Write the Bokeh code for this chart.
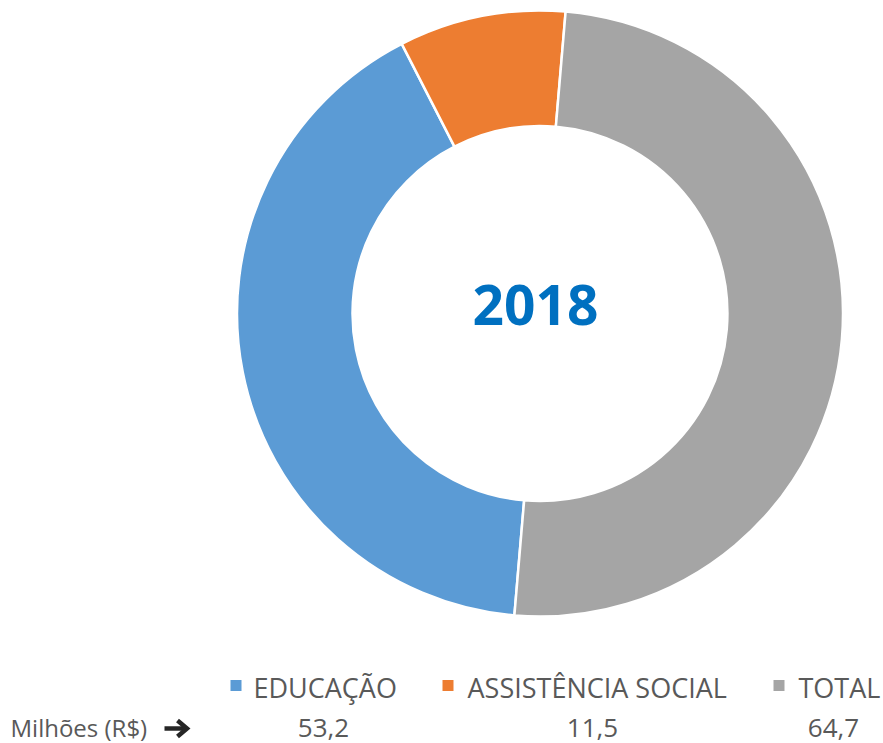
import numpy as np
from bokeh.plotting import figure
from bokeh.models import ColumnDataSource
from bokeh.core.properties import value
from bokeh.embed import file_html
from bokeh.resources import INLINE

categories = ["EDUCAÇÃO", "ASSISTÊNCIA SOCIAL", "TOTAL"]
values = [53.2, 11.5, 64.7]
colors = ["#5B9BD5", "#ED7D31", "#A5A5A5"]
center_label = "2018"
unit_label = "Milhões (R$)"

W, H = 883, 743
p = figure(width=W, height=H, x_range=(0, W), y_range=(0, H),
           output_backend="svg", toolbar_location=None, min_border=0)
p.axis.visible = False
p.grid.visible = False
p.outline_line_color = None
p.background_fill_color = "white"

# angles: clockwise from top, first slice angle
first_angle = 184.85
vals = np.array(values)
frac = vals / vals.sum()
cum = np.concatenate([[0], np.cumsum(frac)]) * 360.0
th_start = first_angle + cum[:-1]
th_end = first_angle + cum[1:]
start_angle = np.deg2rad(90 - th_end)
end_angle = np.deg2rad(90 - th_start)

src = ColumnDataSource(dict(start=start_angle, end=end_angle, color=colors, cat=categories))
cx, cy = 539.5, 430
p.annular_wedge(x=cx, y=cy, inner_radius=187.5, outer_radius=303,
                start_angle="start", end_angle="end", fill_color="color",
                line_color="white", line_width=2.5, source=src)

p.text(x=[535], y=[439], text=[center_label], text_font=value("Open Sans"),
       text_font_style="bold", text_font_size="55px", text_color="#0070C0",
       text_align="center", text_baseline="alphabetic")

# legend
sq_x = [230, 442, 773]
lab_x = [253, 467, 798]
p.rect(x=[x + 5.5 for x in sq_x], y=[58] * 3, width=11, height=11,
       fill_color=colors, line_color=None)
p.text(x=lab_x, y=[56] * 3, text=categories, text_font=value("Open Sans"),
       text_font_size="27px", text_color="#595959", text_align="left",
       text_baseline="alphabetic")

# values row
val_x = [323, 592, 833]
val_txt = [f"{v:.1f}".replace(".", ",") for v in values]
p.text(x=val_x, y=[16] * 3, text=val_txt, text_font=value("Open Sans"),
       text_font_size="26px", text_color="#595959", text_align="center",
       text_baseline="alphabetic")
p.text(x=[10], y=[16], text=[unit_label], text_font=value("Open Sans"),
       text_font_size="24px", text_color="#595959", text_align="left",
       text_baseline="alphabetic")

# heavy arrow drawn as lines
p.line(x=[164, 185], y=[15, 15], line_color="#262626", line_width=4.5)
p.line(x=[177, 186.5, 177], y=[23, 15, 7], line_color="#262626", line_width=4.5,
       line_join="miter")

open("out.html", "w").write(file_html(p, INLINE))
